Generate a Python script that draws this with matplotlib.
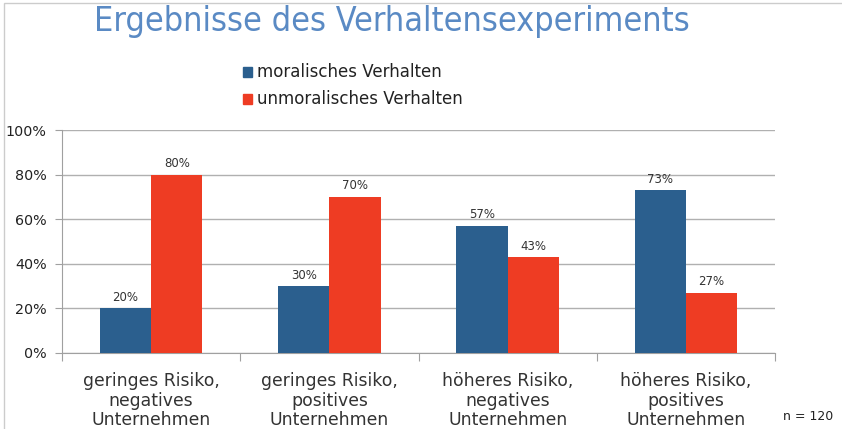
import matplotlib.pyplot as plt
import numpy as np

categories = ["geringes Risiko,\nnegatives\nUnternehmen",
              "geringes Risiko,\npositives\nUnternehmen",
              "höheres Risiko,\nnegatives\nUnternehmen",
              "höheres Risiko,\npositives\nUnternehmen"]
moral = [20, 30, 57, 73]
unmoral = [80, 70, 43, 27]
series_names = ["moralisches Verhalten", "unmoralisches Verhalten"]
blue = "#2b5f8e"
red = "#ee3c23"

fig = plt.figure(figsize=(8.42, 4.29), dpi=100)
ax = fig.add_axes([62 / 842, 1 - 353 / 429, 713 / 842, 223 / 429])

x = np.arange(len(categories))
w = 0.287
b1 = ax.bar(x - w / 2, moral, w, color=blue, zorder=3)
b2 = ax.bar(x + w / 2, unmoral, w, color=red, zorder=3)

for bars, vals in ((b1, moral), (b2, unmoral)):
    for r, v in zip(bars, vals):
        ax.text(r.get_x() + r.get_width() / 2, v + 2, f"{v}%",
                ha="center", va="bottom", fontsize=8.5, color="#333333")

ax.set_xlim(-0.5, len(categories) - 0.5)
ax.set_ylim(0, 100)
ax.set_yticks(np.arange(0, 101, 20))
ax.set_yticklabels([f"{t}%" for t in range(0, 101, 20)], fontsize=10.3,
                   color="#222222")
ax.yaxis.grid(True, color="#b0b0b0", linewidth=1, zorder=0)

ax.set_xticks(np.arange(-0.5, len(categories), 1.0))
ax.set_xticklabels([])
ax.set_xticks(x, minor=True)
ax.set_xticklabels(categories, minor=True, fontsize=12.4, color="#333333",
                   linespacing=1.1)
ax.tick_params(axis="x", which="minor", length=0, pad=14)
ax.tick_params(axis="x", which="major", length=6, color="#a0a0a0")
ax.tick_params(axis="y", length=5, color="#a0a0a0", pad=6)

for s in ("top", "right"):
    ax.spines[s].set_visible(False)
for s in ("left", "bottom"):
    ax.spines[s].set_color("#a0a0a0")

fig.text(392 / 842, 1 - 21 / 429, "Ergebnisse des Verhaltensexperiments",
         ha="center", va="center", fontsize=24.5, color="#5a8ac4",
         fontstretch="condensed")

# legend
for i, (name, c) in enumerate(zip(series_names, (blue, red))):
    y = 1 - (72 + 27 * i) / 429
    fig.patches.append(plt.Rectangle((243 / 842, y - 5 / 429), 9 / 842, 10 / 429,
                                     transform=fig.transFigure, color=c))
    fig.text(257 / 842, y, name, ha="left", va="center", fontsize=12,
             color="#222222")

fig.text(808 / 842, 1 - 417 / 429, "n = 120", ha="center", va="center",
         fontsize=9, color="#222222")

# light frame around the picture
fig.patches.append(plt.Rectangle((4 / 842, -0.01), 1, 1 - 3 / 429 + 0.01,
                                 transform=fig.transFigure, fill=False,
                                 edgecolor="#cccccc", linewidth=1))

fig.savefig("out.png", dpi=100)
